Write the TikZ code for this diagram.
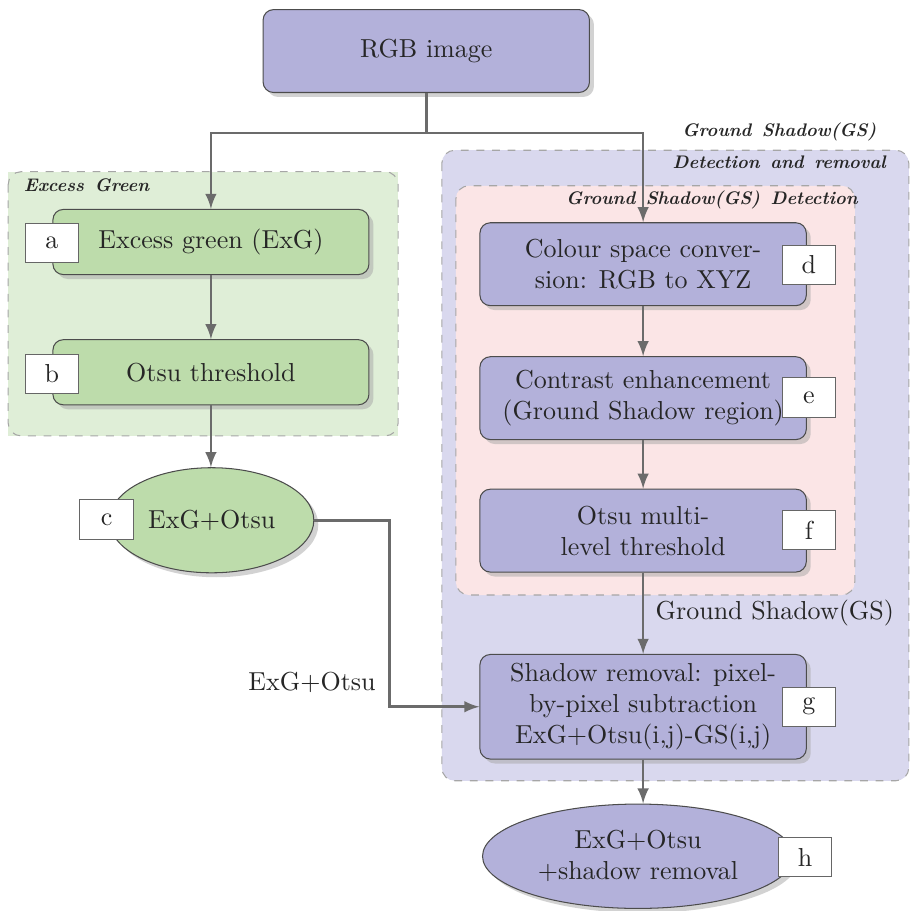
\documentclass[tikz,border=0pt]{standalone}
\usepackage{amsmath}
\usepackage{xcolor}
\usepackage{tikz}
\usetikzlibrary{shapes.geometric,shadows,positioning}

\definecolor{boxblue}{HTML}{B3B1DA}
\definecolor{boxgreen}{HTML}{BDDCAB}
\definecolor{zonegreen}{HTML}{DFEED7}
\definecolor{zoneblue}{HTML}{D9D8EE}
\definecolor{zonepink}{HTML}{FBE5E6}
\definecolor{linegray}{HTML}{6B6B6B}

\tikzset{
    procbox/.style={draw=black!70, rounded corners=4pt, minimum width=4.41cm, minimum height=1.12cm,
        align=center, text=black!85, drop shadow={shadow xshift=0.6mm, shadow yshift=-0.6mm, fill=black!35}},
    ovalbox/.style={draw=black!70, ellipse, align=center, text=black!85,
        drop shadow={shadow xshift=0.6mm, shadow yshift=-0.6mm, fill=black!35}},
    tagbox/.style={draw=black!60, fill=white, minimum width=0.72cm, minimum height=0.53cm, text=black!85},
    zone/.style={draw=black!35, dashed, rounded corners=5pt},
    zonetitle/.style={font=\fontsize{7}{12}\selectfont\bfseries\itshape, text=black!85},
    flow/.style={->, draw=linegray, line width=1pt}
}

\begin{document}
\begin{tikzpicture}[>=latex]
            \useasboundingbox (0,0) rectangle (12.31,-12.30);

            % Background zones
            \fill[zonegreen] (0.11,-2.32) rectangle (5.38,-5.89);
            \draw[zone] (0.11,-2.32) rectangle (5.38,-5.89);
            \node[zonetitle, anchor=west] (zone-exg) at (0.20,-2.51) {Excess\, Green};

            \fill[zoneblue, rounded corners=5pt] (5.97,-2.03) rectangle (12.28,-10.55);
            \draw[zone] (5.97,-2.03) rectangle (12.28,-10.55);
            \node[zonetitle, align=center] (zone-gs) at (10.53,-1.97) {Ground\, Shadow(GS)\\Detection\, and\, removal};

            \fill[zonepink, rounded corners=5pt] (6.16,-2.51) rectangle (11.55,-8.04);
            \draw[zone] (6.16,-2.51) rectangle (11.55,-8.04);
            \node[zonetitle] (zone-det) at (9.62,-2.70) {Ground\, Shadow(GS)\, Detection};

            % Main steps
            \node[procbox, fill=boxblue] (rgb) at (5.76,-0.69) {RGB image};

            \node[procbox, fill=boxgreen, minimum width=4.27cm, minimum height=0.88cm] (a) at (2.85,-3.27) {Excess green (ExG)};
            \node[procbox, fill=boxgreen, minimum width=4.27cm, minimum height=0.88cm] (b) at (2.85,-5.03) {Otsu threshold};
            \node[ovalbox, fill=boxgreen, minimum width=2.70cm, minimum height=1.42cm] (c) at (2.86,-7.03) {ExG+Otsu};

            \node[procbox, fill=boxblue] (d) at (8.69,-3.57) {Colour space conver-\\sion: RGB to XYZ};
            \node[procbox, fill=boxblue] (e) at (8.69,-5.38) {Contrast enhancement\\(Ground Shadow region)};
            \node[procbox, fill=boxblue] (f) at (8.69,-7.17) {Otsu multi-\\level threshold};
            \node[procbox, fill=boxblue, minimum height=1.39cm] (g) at (8.69,-9.55) {Shadow removal: pixel-\\by-pixel subtraction\\ExG+Otsu(i,j)-GS(i,j)};
            \node[ovalbox, fill=boxblue, minimum width=4.20cm, minimum height=1.41cm] (h) at (8.62,-11.57) {ExG+Otsu\\+shadow removal};

            % Step tags
            \foreach \t/\x/\y in {a/0.70/-3.28, b/0.70/-5.05, c/1.44/-7.02, d/10.93/-3.58,
                                  e/10.93/-5.37, f/10.93/-7.16, g/10.93/-9.55, h/10.88/-11.58}
            {
                \node[tagbox] (tag-\t) at (\x,\y) {\t};
            }

            % Connections
            \draw[draw=linegray, line width=1pt] (rgb.south) -- ++(0,-0.54) coordinate (split);
            \draw[flow] (split) -| (a.north);
            \draw[flow] (split) -| (d.north);
            \draw[flow] (a) -- (b);
            \draw[flow] (b.south) -- (b.south |- c.north);
            \draw[flow] (d) -- (e);
            \draw[flow] (e) -- (f);
            \draw[flow] (f) -- node[right, text=black!85, xshift=1pt] (lbl-gs) {Ground Shadow(GS)} (g);
            \draw[flow] (g.south) -- (g.south |- h.north);

            \coordinate (turn) at (5.26,-9.55);
            \draw[flow] (c.east) -| (turn) -- (g.west);
            \node[text=black!85, anchor=south east] (lbl-exg) at (5.20,-9.48) {ExG+Otsu};

        \end{tikzpicture}
\end{document}
